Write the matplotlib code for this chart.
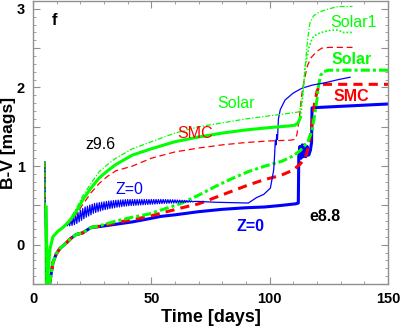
import numpy as np
import matplotlib
matplotlib.use('Agg')
import matplotlib.pyplot as plt
from matplotlib.ticker import MultipleLocator, FuncFormatter

plt.rcParams['font.family'] = ['Liberation Sans', 'DejaVu Sans']

GREEN = '#00ff00'
RED = '#ff0000'
BLUE = '#0000ff'

# ---------------------------------------------------------------------------
# z9.6 model (upper group)
solar_z96_t = [5.0, 5.5, 6.3, 7.2, 8.4, 10.5, 12.7, 15, 16.9, 19, 21, 24.5, 28, 31.5, 35, 42,
               50, 60, 70, 80, 90, 100, 108, 112.5, 113.5, 114.3, 115, 116, 117, 118.5, 121,
               125, 129, 135]
solar_z96_v = [1.05, -0.45, -0.25, -0.05, 0.1, 0.17, 0.22, 0.3, 0.39, 0.5, 0.62, 0.78, 0.93, 1.02,
               1.1, 1.22, 1.31, 1.42, 1.5, 1.55, 1.6, 1.64, 1.67, 1.69, 1.8, 2.0, 2.26, 2.6, 2.82,
               2.91, 2.96, 3.0, 3.03, 3.03]

solar1_z96_t = [5.6, 6.0, 6.5, 7.2, 8.4, 10.5, 12.7, 15, 16.9, 19, 21, 24.5, 28, 31.5, 35, 42,
                50, 60, 70, 80, 90, 100, 108, 110.7, 112, 113]
solar1_z96_v = [0.48, -0.55, -0.3, -0.05, 0.1, 0.17, 0.22, 0.29, 0.36, 0.46, 0.57, 0.72, 0.85,
                0.94, 1.02, 1.14, 1.22, 1.31, 1.37, 1.42, 1.46, 1.49, 1.51, 1.52, 1.55, 1.62]
solar1_late_t = [113, 114, 115, 116.5, 118, 120, 123, 126, 129, 131, 135]
solar1_late_v = [1.62, 1.9, 2.26, 2.5, 2.63, 2.68, 2.71, 2.73, 2.73, 2.70, 2.70]

smc_z96_t = [5.0, 5.5, 6.3, 7.2, 8.4, 10.5, 12.7, 15, 16.9, 19, 21, 24.5, 28, 31.5, 35, 42,
             50, 60, 70, 80, 90, 100, 109, 110.7, 111.5, 112.5, 113.5, 114.5, 116, 117.5, 120,
             122, 125, 130, 135]
smc_z96_v = [1.05, -0.45, -0.25, -0.05, 0.1, 0.17, 0.22, 0.27, 0.33, 0.42, 0.51, 0.66, 0.78, 0.87,
             0.94, 1.0, 1.1, 1.18, 1.23, 1.27, 1.3, 1.32, 1.33, 1.34, 1.4, 1.6, 1.9, 2.08, 2.28,
             2.38, 2.46, 2.5, 2.51, 2.51, 2.51]

z0_z96_t_early = [5.0, 5.5, 6.3, 7.2, 8.4, 10.5, 12.7, 13.5]
z0_z96_v_early = [1.05, -0.45, -0.25, -0.05, 0.1, 0.17, 0.22, 0.24]
# pulsation wiggles, one value every half day from day 14 to day 68
z0_z96_v_puls = [
    0.26, 0.24, 0.29, 0.24, 0.32, 0.245, 0.35, 0.255, 0.38, 0.27, 0.41, 0.29,
    0.44, 0.31, 0.46, 0.33, 0.48, 0.35, 0.49, 0.365, 0.505, 0.38, 0.515, 0.40,
    0.525, 0.41, 0.53, 0.42, 0.535, 0.43, 0.54, 0.44, 0.545, 0.447, 0.55, 0.453,
    0.555, 0.46, 0.558, 0.465, 0.562, 0.47, 0.565, 0.477, 0.567, 0.48, 0.569, 0.485,
    0.571, 0.489, 0.573, 0.492, 0.575, 0.496, 0.575, 0.498, 0.575, 0.50, 0.575, 0.502,
    0.575, 0.504, 0.575, 0.506, 0.575, 0.508, 0.575, 0.51, 0.575, 0.512, 0.575, 0.514,
    0.575, 0.516, 0.575, 0.518, 0.575, 0.52, 0.575, 0.522, 0.575, 0.524, 0.575, 0.526,
    0.574, 0.527, 0.573, 0.528, 0.572, 0.529, 0.571, 0.53, 0.57, 0.531, 0.568, 0.533,
    0.567, 0.535, 0.565, 0.536, 0.564, 0.538, 0.562, 0.54, 0.56, 0.542, 0.556, 0.545,
    0.55]
z0_z96_t_late = [70, 77, 85, 91, 94.5, 97.5, 100.3, 101.7, 102.1, 102.4, 102.7, 103.0,
                 103.3, 103.7, 104.5, 106.5, 110, 113.6, 118, 123.4, 129, 134]
z0_z96_v_late = [0.55, 0.54, 0.535, 0.53, 0.6, 0.64, 0.72, 0.95, 1.15, 1.33, 1.27, 1.4,
                 1.34, 1.6, 1.72, 1.84, 1.93, 1.99, 2.03, 2.06, 2.1, 2.13]

# ---------------------------------------------------------------------------
# e8.8 model (lower group)
z0_e88_t = [6.0, 7.0, 8.4, 9.8, 11.3, 14, 16, 18.3, 21, 22.5, 24.6, 28, 35, 42, 49,
            54, 60, 70, 80, 90, 98, 105, 111, 112.1, 112.3, 112.8, 113.3, 113.8, 114.3,
            114.8, 115.3, 115.8, 116.5, 117.2, 117.7, 117.9, 120, 130, 140, 150]
z0_e88_v = [-0.9, -0.5, -0.23, -0.12, -0.05, 0.02, 0.08, 0.13, 0.15, 0.18, 0.22,
            0.23, 0.26, 0.29, 0.33, 0.36, 0.38, 0.42, 0.45, 0.47, 0.48, 0.5, 0.52, 0.53, 1.12,
            1.25, 1.1, 1.27, 1.12, 1.27, 1.12, 1.25, 1.14, 1.2, 1.3, 1.74, 1.745, 1.76, 1.775,
            1.79]

smc_e88_t = [6.0, 7.0, 8.4, 9.8, 11.3, 14, 16, 18.3, 21, 22.5, 24.6, 28, 35, 42, 49,
             54, 63, 70, 77, 84, 91, 98, 104.6, 110, 113, 115, 116, 117, 118, 119, 120, 121,
             123, 150]
smc_e88_v = [-0.9, -0.5, -0.23, -0.12, -0.05, 0.02, 0.08, 0.13, 0.15, 0.18, 0.22,
             0.235, 0.28, 0.32, 0.36, 0.4, 0.47, 0.52, 0.6, 0.68, 0.76, 0.83, 0.88, 0.95, 1.03,
             1.1, 1.2, 1.35, 1.55, 1.8, 1.95, 2.02, 2.04, 2.04]

solar_e88_t = [5.0, 5.4, 6.5, 7.0, 8.4, 9.8, 11.3, 14, 16, 18.3, 21, 22.5, 24.6, 28, 35, 42,
               49, 54, 63, 70, 77, 84, 91, 98, 105, 110, 113, 116, 118, 119, 120, 120.5,
               121.5, 122.5, 125, 150]
solar_e88_v = [1.05, -0.7, -0.7, -0.5, -0.23, -0.12, -0.05, 0.02, 0.08, 0.13, 0.15, 0.18,
               0.22, 0.24, 0.3, 0.35, 0.39, 0.44, 0.53, 0.63, 0.74, 0.84, 0.93, 1.0, 1.06, 1.13,
               1.2, 1.3, 1.46, 1.65, 1.85, 2.0, 2.15, 2.2, 2.22, 2.22]

# ---------------------------------------------------------------------------
fig = plt.figure(figsize=(4.03, 3.26), dpi=100)
ax = fig.add_axes([33 / 403, 42 / 326, 355 / 403, 283 / 326])

thin = 0.9
thick = 2.2

# lower (e8.8)
ax.plot(z0_e88_t, z0_e88_v, color=BLUE, lw=thick, ls='-')
ax.plot(smc_e88_t, smc_e88_v, color=RED, lw=thick, ls=(0, (3, 2)))
# the early spike is thin, the rest is thick
ax.plot(solar_e88_t[:4], solar_e88_v[:4], color=GREEN, lw=thin + 0.4, ls='-')
ax.plot(solar_e88_t[3:], solar_e88_v[3:], color=GREEN, lw=thick, ls=(0, (3, 1, 1, 1)))

# upper (z9.6)
puls_t = np.arange(14, 68.25, 0.5)
z0_t = list(z0_z96_t_early) + list(puls_t) + list(z0_z96_t_late)
z0_v = list(z0_z96_v_early) + list(z0_z96_v_puls) + list(z0_z96_v_late)
ax.plot(z0_t, z0_v, color=BLUE, lw=thin, ls='-')
ax.plot(smc_z96_t, smc_z96_v, color=RED, lw=thin, ls=(0, (5, 3)))
ax.plot(solar1_z96_t, solar1_z96_v, color=GREEN, lw=thick, ls='-')
ax.plot(solar1_late_t, solar1_late_v, color=GREEN, lw=thin + 0.3, ls=(0, (1, 1.2)))
ax.plot(solar_z96_t, solar_z96_v, color=GREEN, lw=thin, ls=(0, (4, 1.5, 1, 1.5)))

ax.set_xlim(0, 150)
ax.set_ylim(-0.5, 3.1)

ax.xaxis.set_major_locator(MultipleLocator(50))
ax.xaxis.set_minor_locator(MultipleLocator(10))
ax.yaxis.set_major_locator(MultipleLocator(0.5))
ax.yaxis.set_minor_locator(MultipleLocator(0.1))
ax.yaxis.set_major_formatter(FuncFormatter(
    lambda v, p: '%d' % round(v) if abs(v - round(v)) < 1e-6 else ''))

for s in ax.spines.values():
    s.set_color('#909090')
    s.set_linewidth(1.0)
ax.tick_params(which='both', direction='in', top=True, right=True, color='#909090',
               labelsize=10.5)
ax.tick_params(which='major', length=5, width=0.8, pad=6)
ax.tick_params(which='minor', length=2.5, width=0.6)
for lab in ax.get_xticklabels() + ax.get_yticklabels():
    lab.set_fontweight('bold')

ax.set_xlabel('Time [days]', fontsize=13, fontweight='bold', va='baseline')
ax.set_ylabel('B-V [mags]', fontsize=12.5, fontweight='bold', va='center')
ax.xaxis.set_label_coords(0.5, -0.134)
ax.yaxis.set_label_coords(-0.068, 0.5)

# annotations
fs = 11.5
ax.text(9.1, 2.85, 'f', fontsize=12, fontweight='bold', ha='center', va='center')
ax.text(28.3, 1.28, 'z9.6', fontsize=fs, ha='center', va='center')
ax.text(85.8, 1.80, 'Solar', fontsize=fs, color=GREEN, ha='center', va='center')
ax.text(68.4, 1.41, 'SMC', fontsize=fs, color=RED, ha='center', va='center')
ax.text(40.6, 0.70, 'Z=0', fontsize=fs, color=BLUE, ha='center', va='center')
ax.text(135.2, 2.83, 'Solar1', fontsize=fs, color=GREEN, ha='center', va='center')
ax.text(134.8, 2.36, 'Solar', fontsize=fs, color=GREEN, fontweight='bold', ha='center', va='center')
ax.text(134.3, 1.88, 'SMC', fontsize=fs, color=RED, fontweight='bold', ha='center', va='center')
ax.text(92.1, 0.23, 'Z=0', fontsize=fs, color=BLUE, fontweight='bold', ha='center', va='center')
ax.text(123.4, 0.36, 'e8.8', fontsize=fs, fontweight='bold', ha='center', va='center')

plt.savefig('out.png', dpi=100)
